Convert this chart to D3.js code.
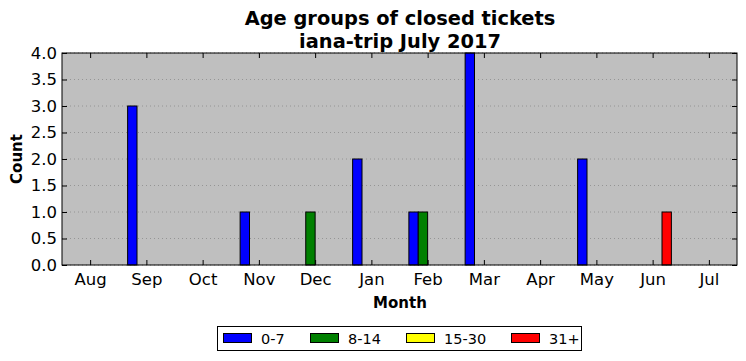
<!DOCTYPE html>
<html><head><meta charset="utf-8">
<script src="https://cdn.jsdelivr.net/npm/d3@7"></script>
<style>body{margin:0;background:#fff;}svg{display:block;font-family:"DejaVu Sans",sans-serif;}</style>
</head><body><svg id="c" width="746" height="361"></svg>
<script>
const months = ["Aug","Sep","Oct","Nov","Dec","Jan","Feb","Mar","Apr","May","Jun","Jul"];
const seriesNames = ["0-7","8-14","15-30","31+"];
const seriesColors = ["#0000ff","#008000","#ffff00","#ff0000"];
const s0_7   = [0,3,0,1,0,2,1,4,0,2,0,0];
const s8_14  = [0,0,0,0,1,0,1,0,0,0,0,0];
const s15_30 = [0,0,0,0,0,0,0,0,0,0,0,0];
const s31p   = [0,0,0,0,0,0,0,0,0,0,1,0];
const yTicks = [0,0.5,1,1.5,2,2.5,3,3.5,4];
const series = [s0_7,s8_14,s15_30,s31p];

const svg = d3.select("#c");
const L=62,R=737,T=53,B=265;
const x = d3.scaleLinear().domain([-0.5,11.5]).range([L,R]);
const y = d3.scaleLinear().domain([0,4]).range([B,T]);
const bw = (x(1)-x(0))/6;

svg.append("rect").attr("x",L).attr("y",T).attr("width",R-L).attr("height",B-T).attr("fill","#bfbfbf");
// grid
svg.append("g").selectAll("line").data(yTicks).join("line")
 .attr("x1",L).attr("x2",R).attr("y1",d=>y(d)).attr("y2",d=>y(d))
 .attr("stroke","#8a8a8a").attr("stroke-width",0.8).attr("stroke-dasharray","1,3");
// bars
series.forEach((s,si)=>{
  svg.append("g").selectAll("rect").data(s).join("rect")
   .attr("x",(d,i)=>x(i)+(si-2)*bw).attr("width",bw)
   .attr("y",d=>y(d)).attr("height",d=>y(0)-y(d))
   .attr("fill",seriesColors[si]).attr("stroke","#000").attr("stroke-width",1);
});
// axes
const yl = svg.append("g").attr("transform",`translate(${L},0)`)
 .call(d3.axisLeft(y).tickValues(yTicks).tickFormat(d3.format(".1f")).tickSize(-5).tickPadding(5));
const yr = svg.append("g").attr("transform",`translate(${R},0)`)
 .call(d3.axisRight(y).tickValues(yTicks).tickFormat("").tickSize(-5));
const xb = svg.append("g").attr("transform",`translate(0,${B})`)
 .call(d3.axisBottom(x).tickValues(d3.range(12)).tickFormat(i=>months[i]).tickSize(-5).tickPadding(8));
const xt = svg.append("g").attr("transform",`translate(0,${T})`)
 .call(d3.axisTop(x).tickValues(d3.range(12)).tickFormat("").tickSize(-5));
[yl,yr,xb,xt].forEach(g=>{g.select(".domain").remove();g.selectAll("line").attr("stroke","#000");
  g.selectAll("text").attr("font-size",16.5).attr("fill","#000").attr("font-family","DejaVu Sans");});
svg.append("rect").attr("x",L).attr("y",T).attr("width",R-L).attr("height",B-T).attr("fill","none").attr("stroke","#000").attr("stroke-width",1);

// titles
svg.append("text").attr("x",400).attr("y",25).attr("text-anchor","middle").attr("font-size",19.4).attr("font-weight","bold").text("Age groups of closed tickets");
svg.append("text").attr("x",400).attr("y",48).attr("text-anchor","middle").attr("font-size",19.4).attr("font-weight","bold").text("iana-trip July 2017");
svg.append("text").attr("x",400).attr("y",308).attr("text-anchor","middle").attr("font-size",15).attr("font-weight","bold").text("Month");
svg.append("text").attr("transform","translate(22,159) rotate(-90)").attr("text-anchor","middle").attr("font-size",15).attr("font-weight","bold").text("Count");

// legend
const lg = svg.append("g");
lg.append("rect").attr("x",217.5).attr("y",326.5).attr("width",364).attr("height",24).attr("fill","#fff").attr("stroke","#000");
const lx=[223,310,406,511];
seriesNames.forEach((n,i)=>{
  lg.append("rect").attr("x",lx[i]+0.5).attr("y",333.5).attr("width",28).attr("height",9).attr("fill",seriesColors[i]).attr("stroke","#000");
  lg.append("text").attr("x",lx[i]+38).attr("y",343.5).attr("font-size",14.5).text(n);
});
</script></body></html>
